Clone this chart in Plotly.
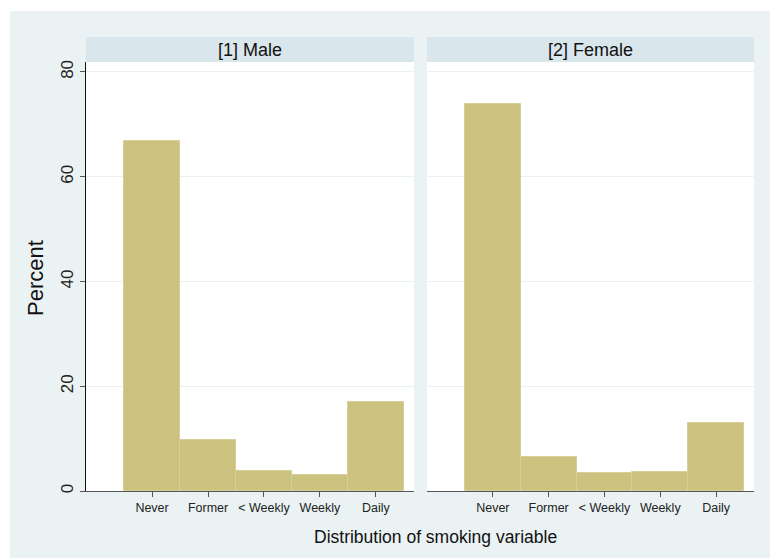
import plotly.graph_objects as go

categories = ["Never", "Former", "< Weekly", "Weekly", "Daily"]
positions = [1, 2, 3, 4, 5]
male_pct = [66.9, 9.7, 3.8, 3.0, 16.9]
female_pct = [73.8, 6.5, 3.4, 3.6, 13.0]
panel_titles = ["[1] Male", "[2] Female"]
y_ticks = [0, 20, 40, 60, 80]

W, H = 770, 558
L, R, T, B = 86, 16, 62, 67
pw, ph = W - L - R, H - T - B

def px_x(px):
    return (px - L) / pw

def px_y(py):
    return (H - B - py) / ph

bar_fill = "#CAC27E"
bar_line = "#D6CF97"
bg = "#EAF2F3"
font_family = "Liberation Sans, Arial, Helvetica, sans-serif"

fig = go.Figure()
for i, vals in enumerate([male_pct, female_pct]):
    fig.add_trace(go.Bar(
        x=positions, y=vals, width=1.0,
        marker=dict(color=bar_fill, line=dict(color=bar_line, width=1)),
        xaxis="x" if i == 0 else "x2", yaxis="y" if i == 0 else "y2",
        showlegend=False, hoverinfo="x+y",
    ))

xr = [-0.18, 5.68]
yr = [0, 81.9]
common_x = dict(range=xr, tickmode="array", tickvals=positions, ticktext=categories,
                ticks="outside", ticklen=5, tickcolor="#555555", tickwidth=1,
                showline=True, linecolor="#555555", linewidth=1, showgrid=False,
                zeroline=False, tickfont=dict(size=12.5, color="#222222", family=font_family),
                fixedrange=True)
common_y = dict(range=yr, tickmode="array", tickvals=y_ticks, showgrid=True,
                gridcolor="#EAF1F2", gridwidth=1, zeroline=False, fixedrange=True)

d1 = [0, px_x(414)]
d2 = [px_x(427), 1]
fig.update_layout(
    width=W, height=H,
    margin=dict(l=L, r=R, t=T, b=B, pad=0),
    paper_bgcolor=bg, plot_bgcolor="white",
    bargap=0,
    font=dict(family=font_family, color="#111111"),
    xaxis=dict(domain=d1, anchor="y", **common_x),
    xaxis2=dict(domain=d2, anchor="y2", **common_x),
    yaxis=dict(domain=[0, 1], anchor="x", showline=True, linecolor="#111111", linewidth=1,
               ticks="outside", ticklen=5, tickcolor="#555555", tickangle=-90,
               tickfont=dict(size=17, color="#222222", family=font_family),
               **common_y),
    yaxis2=dict(domain=[0, 1], anchor="x2", showline=False, showticklabels=False, ticks="",
                **common_y),
)

shapes = [
    dict(type="rect", xref="paper", yref="paper", x0=px_x(0), x1=px_x(770), y0=px_y(11), y1=px_y(0),
         fillcolor="white", line=dict(width=0), layer="below"),
    dict(type="rect", xref="paper", yref="paper", x0=px_x(0), x1=px_x(10), y0=px_y(558), y1=px_y(0),
         fillcolor="white", line=dict(width=0), layer="below"),
]
annotations = []
for (x0, x1), title in zip([(86, 414), (427, 754)], panel_titles):
    shapes.append(dict(type="rect", xref="paper", yref="paper", x0=px_x(x0), x1=px_x(x1),
                       y0=px_y(62), y1=px_y(37), fillcolor="#D9E6EB", line=dict(width=0),
                       layer="below"))
    annotations.append(dict(text=title, xref="paper", yref="paper", x=px_x((x0 + x1) / 2),
                            y=px_y(49.5), showarrow=False, xanchor="center", yanchor="middle",
                            font=dict(size=18, color="#111111")))
annotations.append(dict(text="Distribution of smoking variable", xref="paper", yref="paper",
                        x=px_x(435), y=px_y(537), showarrow=False, xanchor="center",
                        yanchor="middle", font=dict(size=17.5, color="#111111")))
annotations.append(dict(text="Percent", xref="paper", yref="paper", textangle=-90,
                        x=px_x(35), y=px_y(278), showarrow=False, xanchor="center",
                        yanchor="middle", font=dict(size=22, color="#111111")))
fig.update_layout(shapes=shapes, annotations=annotations)

fig.write_html(
    "out.html",
    config={"displayModeBar": False},
    post_script=("document.body.style.margin='0';document.body.style.padding='0';"
                 "document.body.style.overflow='hidden';"
                 "document.body.style.background='" + bg + "';"
                 "document.documentElement.style.background='" + bg + "';"),
)
